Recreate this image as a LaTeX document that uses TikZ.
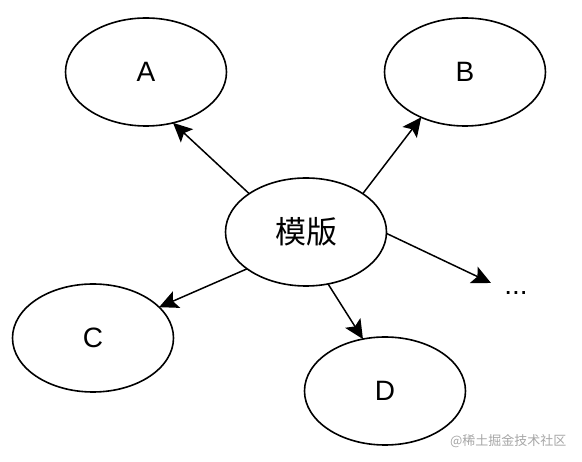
\documentclass[tikz,border=0pt]{standalone}
\usepackage{fontspec}
\setmainfont{Liberation Sans}
\newfontfamily\cjk{Noto Sans CJK SC}
\usetikzlibrary{shapes.geometric,arrows.meta}
\begin{document}
\begin{tikzpicture}[x=1pt,y=-1pt,
  ell/.style={draw, ellipse, line width=1.6pt, minimum width=161pt, minimum height=108pt,
    inner sep=0pt, outer sep=0pt, font=\fontsize{28}{30}\selectfont},
  arr/.style={-{Stealth[length=19pt,width=18pt,inset=4pt]}, line width=1.5pt},
  wm/.style={text=black!35, font=\cjk\fontsize{13}{15}\selectfont}]
\useasboundingbox (0,0) rectangle (582,462);
\node[ell] (M) at (306,232) {\cjk\fontsize{31}{33}\selectfont 模版};
\node[ell] (A) at (146,72) {A};
\node[ell] (B) at (465,72) {B};
\node[ell] (C) at (93,338) {C};
\node[ell] (D) at (385,391) {D};
\node[font=\fontsize{28}{30}\selectfont, inner sep=0pt] (dots) at (516,293) {...};
\coordinate (dotsend) at (491,283);
\node[wm, anchor=east] (wmark) at (570,441) {@稀土掘金技术社区};
\draw[arr] (M.146) -- (A.298);
\draw[arr] (M.34) -- (B.226);
\draw[arr] (M.212) -- (C.25);
\draw[arr] (M.-67.6) -- (D.113);
\draw[arr] (M.-1) -- (dotsend);
\end{tikzpicture}
\end{document}
